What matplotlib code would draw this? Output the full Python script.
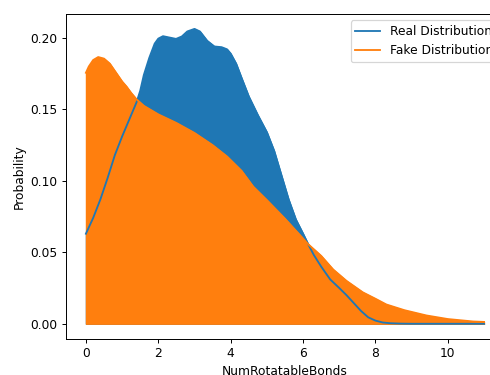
import matplotlib
matplotlib.use("Agg")
import matplotlib.pyplot as plt

# values
real_x = [0.0, 0.2, 0.4, 0.6, 0.8, 1.0, 1.2, 1.4, 1.5, 1.6, 1.75, 1.9, 2.0, 2.13, 2.3,
          2.49, 2.65, 2.8, 3.0, 3.15, 3.35, 3.55, 3.75, 3.9, 4.0, 4.15, 4.3, 4.5, 4.75,
          5.0, 5.2, 5.4, 5.6, 5.8, 6.0, 6.14, 6.3, 6.5, 6.75, 7.0, 7.2, 7.4, 7.6, 7.8,
          8.0, 8.2, 8.4, 8.7, 9.0, 10.0, 11.0]
real_y = [0.063, 0.074, 0.087, 0.102, 0.118, 0.131, 0.143, 0.155, 0.163, 0.174, 0.186,
          0.196, 0.1995, 0.2012, 0.2003, 0.1993, 0.201, 0.2045, 0.2063, 0.2045, 0.198,
          0.194, 0.1935, 0.192, 0.189, 0.182, 0.172, 0.159, 0.146, 0.134, 0.121, 0.104,
          0.087, 0.073, 0.063, 0.0557, 0.048, 0.040, 0.031, 0.025, 0.020, 0.0145, 0.009,
          0.0045, 0.0022, 0.0009, 0.0004, 0.0001, 0.0, 0.0, 0.0]

fake_x = [0.0, 0.08, 0.2, 0.34, 0.5, 0.66, 0.85, 1.0, 1.12, 1.25, 1.4, 1.6, 1.8, 2.0,
          2.5, 3.0, 3.5, 3.9, 4.3, 4.62, 5.0, 5.5, 6.14, 6.5, 6.83, 7.2, 7.65, 8.0,
          8.3, 8.8, 9.41, 10.0, 10.7, 11.0]
fake_y = [0.1756, 0.180, 0.1845, 0.1866, 0.1855, 0.182, 0.175, 0.1695, 0.166, 0.1615,
          0.157, 0.1525, 0.1495, 0.1465, 0.1405, 0.1335, 0.125, 0.117, 0.107, 0.096,
          0.0865, 0.0735, 0.0557, 0.0475, 0.038, 0.030, 0.022, 0.0175, 0.0135, 0.0095,
          0.0058, 0.0033, 0.0016, 0.0013]

fig = plt.figure(figsize=(491 / 88, 375 / 88), dpi=88)
ax = fig.add_axes([0.1344, 0.0973, 0.892, 0.865])

ax.fill_between(real_x, real_y, color="#1f77b4")
ax.fill_between(fake_x, fake_y, color="#ff7f0e")
ax.plot(real_x, real_y, color="#1f77b4", label="Real Distribution")
ax.plot(fake_x, fake_y, color="#ff7f0e", label="Fake Distribution")

ax.set_xlabel("NumRotatableBonds")
ax.set_ylabel("Probability")
ax.set_xticks([0, 2, 4, 6, 8, 10])
ax.set_yticks([0.0, 0.05, 0.10, 0.15, 0.20])
ax.legend(loc="upper right")

fig.savefig("out.png", dpi=88)
